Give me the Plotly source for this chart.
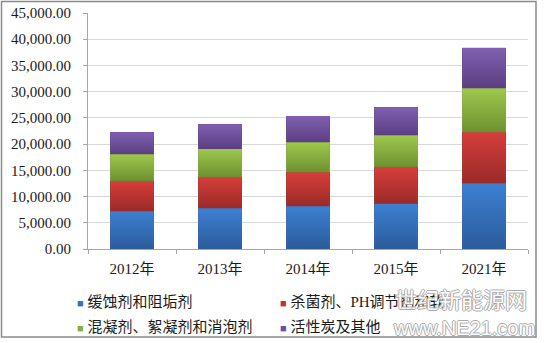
import plotly.graph_objects as go

# Market size by product category (stacked), per year
years = ["2012年", "2013年", "2014年", "2015年", "2021年"]
series_names = [
    "缓蚀剂和阻垢剂",
    "杀菌剂、PH调节剂和软化剂",
    "混凝剂、絮凝剂和消泡剂",
    "活性炭及其他",
]
corrosion_scale = [7190, 7760, 8140, 8640, 12530]
biocide_ph = [5780, 5970, 6480, 6940, 9720]
coagulant_defoamer = [5080, 5340, 5720, 6100, 8390]
carbon_other = [4200, 4710, 5020, 5340, 7750]

series_values = [corrosion_scale, biocide_ph, coagulant_defoamer, carbon_other]
# (bottom shade, top shade, flat colour) for each series
palette = [
    ("#2b5b9b", "#3d80d2", "#3570bb"),
    ("#9a2a28", "#d63e3b", "#bb3532"),
    ("#6d9030", "#9ec84d", "#86ad3f"),
    ("#5b3e82", "#8060b0", "#6d4f9a"),
]
legend_rows = ["legend", "legend", "legend2", "legend2"]

BAR_W = 0.49
SERIF_CJK = "Liberation Serif, Noto Sans CJK SC, serif"
xpos = list(range(len(years)))

fig = go.Figure()

# stacked bars
for name, vals, (lo, hi, flat) in zip(series_names, series_values, palette):
    fig.add_trace(go.Bar(
        x=xpos, y=vals, width=BAR_W, name=name, legendgroup=name,
        marker=dict(color=flat, line=dict(width=0)), showlegend=False,
        hovertemplate="%{y:,.2f}<extra>" + name + "</extra>",
    ))

# vertical shading on each stacked segment, built from the same stack
base = [0] * len(years)
for name, vals, (lo, hi, flat) in zip(series_names, series_values, palette):
    for i, v in enumerate(vals):
        b, t = base[i], base[i] + v
        x0, x1 = i - BAR_W / 2, i + BAR_W / 2
        fig.add_trace(go.Scatter(
            x=[x0, x1, x1, x0, x0], y=[b, b, t, t, b],
            mode="lines", line=dict(width=0), fill="toself",
            fillgradient=dict(type="vertical", start=b, stop=t,
                              colorscale=[[0, lo], [1, hi]]),
            legendgroup=name, showlegend=False, hoverinfo="skip",
        ))
        base[i] = t

# legend entries: small coloured square in front of each label
for name, (lo, hi, flat), lg in zip(series_names, palette, legend_rows):
    fig.add_trace(go.Scatter(
        x=[None], y=[None], mode="markers",
        marker=dict(color="rgba(0,0,0,0)", size=1),
        name=f"<span style='color:{flat};font-size:11px'>■</span> {name}",
        legendgroup=name, legend=lg,
    ))

W, H = 544, 343
L, R, T, B = 88, 16, 13, 94
pw, ph = W - L - R, H - T - B


def px_x(p):
    return (p - L) / pw


def px_y(p):
    return (H - B - p) / ph


legend_common = dict(
    orientation="h", xref="container", yref="container",
    x=37 / W, xanchor="left", yanchor="middle",
    entrywidth=158, entrywidthmode="pixels", traceorder="normal",
    bgcolor="rgba(0,0,0,0)", itemclick="toggleothers",
    font=dict(family=SERIF_CJK, size=15, color="#1a1a1a"),
)

fig.update_layout(
    width=W, height=H,
    margin=dict(l=L, r=R, t=T, b=B, autoexpand=False),
    paper_bgcolor="white", plot_bgcolor="white",
    barmode="stack", showlegend=True,
    legend=dict(legend_common, y=1 - 301 / H),
    legend2=dict(legend_common, y=1 - 326 / H),
    font=dict(family=SERIF_CJK, size=15, color="#1a1a1a"),
    xaxis=dict(
        range=[-0.5, len(years) - 0.5], tickmode="array",
        tickvals=xpos, ticktext=years, ticks="", showgrid=False,
        zeroline=False, showline=True, linecolor="#a6a6a6", linewidth=1,
        ticklabelstandoff=6,
        minor=dict(ticks="outside", ticklen=4, tickcolor="#a6a6a6",
                   tick0=-0.5, dtick=1, showgrid=False),
        fixedrange=True,
    ),
    yaxis=dict(
        range=[0, 45000], dtick=5000, tick0=0, tickformat=",.2f",
        showgrid=True, gridcolor="#d9d9d9", gridwidth=1,
        zeroline=False, showline=True, linecolor="#a6a6a6", linewidth=1,
        ticks="outside", ticklen=4, tickcolor="#a6a6a6",
        ticklabelstandoff=9, fixedrange=True,
    ),
    shapes=[dict(
        type="rect", xref="paper", yref="paper",
        x0=px_x(1.5), x1=px_x(536), y0=px_y(337), y1=px_y(1.5),
        line=dict(color="#8a8a8a", width=1.5), fillcolor="rgba(0,0,0,0)",
        layer="above",
    )],
)

# site watermark
outline = "-1px 0 #9c9c9c, 1px 0 #9c9c9c, 0 -1px #9c9c9c, 0 1px #9c9c9c"
fig.add_annotation(
    text="世纪新能源网", xref="paper", yref="paper",
    x=px_x(461), y=px_y(298), showarrow=False, xanchor="center", yanchor="middle",
    font=dict(family="Noto Sans CJK SC", size=22, color="white", shadow=outline),
    opacity=0.85,
)
fig.add_annotation(
    text="www.NE21.com", xref="paper", yref="paper",
    x=px_x(464), y=px_y(328), showarrow=False, xanchor="center", yanchor="middle",
    font=dict(family="Liberation Sans", size=20, color="white", shadow=outline),
    opacity=0.85,
)

fig.write_html("out.html")
